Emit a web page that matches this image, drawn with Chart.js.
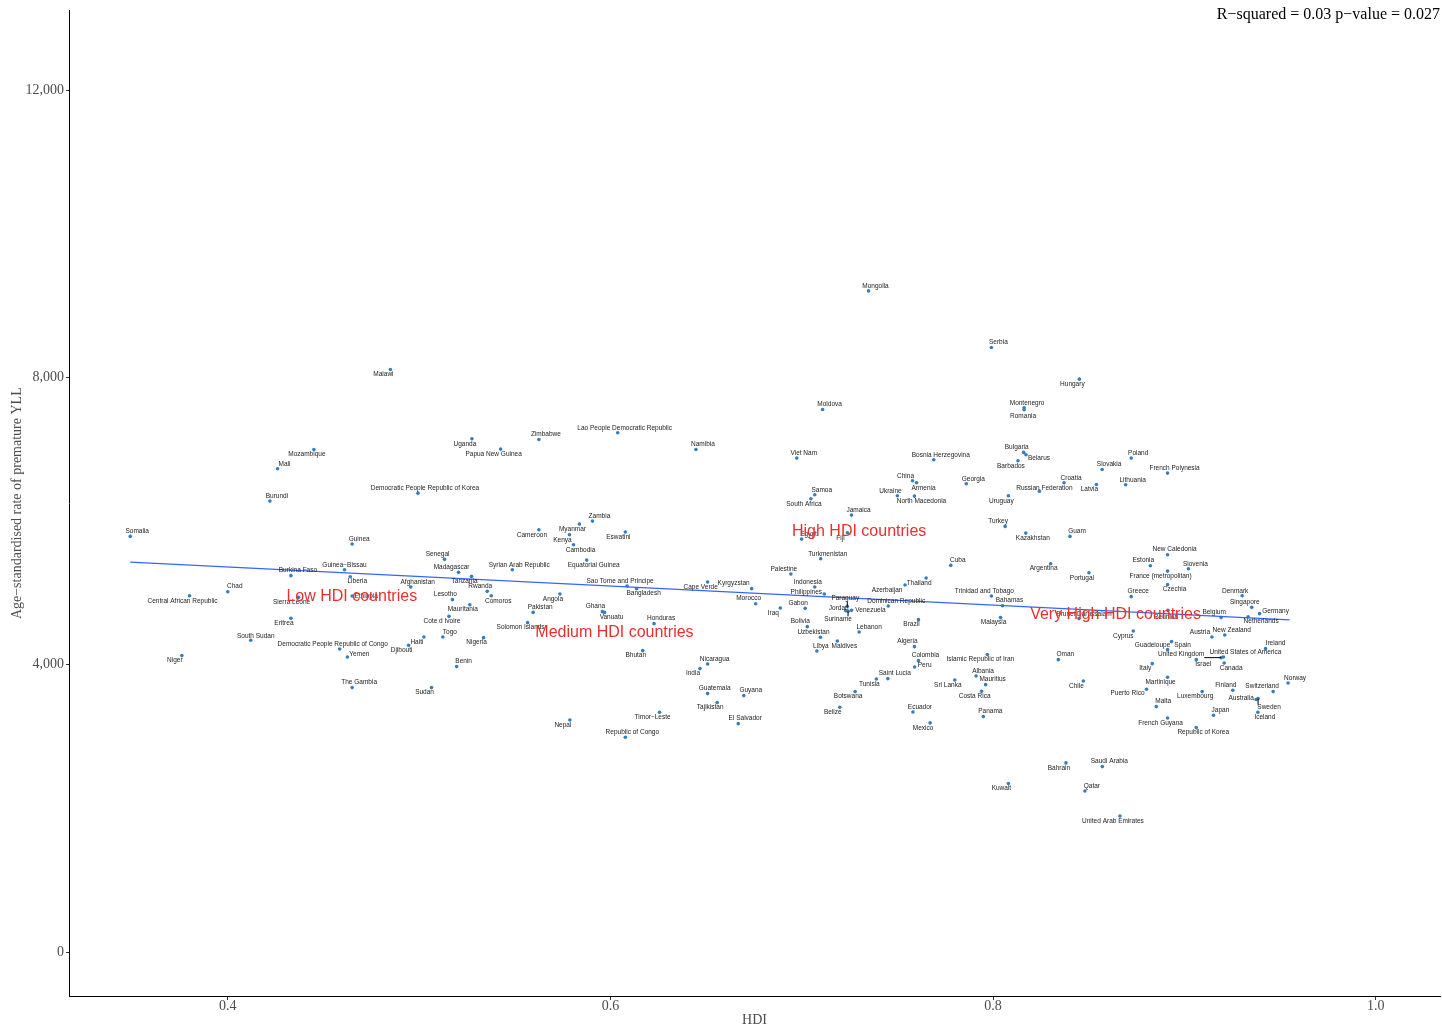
<!DOCTYPE html>
<html>
<head>
<meta charset="utf-8">
<script src="https://cdn.jsdelivr.net/npm/chart.js@4"></script>
<style>
  html, body { margin: 0; padding: 0; background: #fff; }
  #wrap { width: 1442px; height: 1029px; }
</style>
</head>
<body>
<div id="wrap"><canvas id="chart" width="1442" height="1029"></canvas></div>
<script>
// values
const countries = ['Somalia','Central African Republic','Niger','Chad','South Sudan','Burundi','Mali','Burkina Faso','Sierra Leone','Eritrea',
  'Mozambique','Guinea−Bissau','Democratic People Republic of Congo','Yemen','Guinea','Liberia','Ethiopia','The Gambia','Malawi','Djibouti',
  'Afghanistan','Democratic People Republic of Korea','Haiti','Sudan','Togo','Senegal','Cote d Ivoire','Lesotho','Benin','Madagascar',
  'Mauritania','Tanzania','Uganda','Nigeria','Rwanda','Comoros','Papua New Guinea','Syrian Arab Republic','Solomon Islands','Pakistan',
  'Cameroon','Zimbabwe','Angola','Kenya','Nepal','Cambodia','Myanmar','Equatorial Guinea','Zambia','Ghana',
  'Vanuatu','Lao People Democratic Republic','Eswatini','Republic of Congo','Sao Tome and Principe','Bangladesh','Bhutan','Honduras','Timor−Leste','Namibia',
  'India','Cape Verde','Nicaragua','Guatemala','Tajikistan','El Salvador','Guyana','Kyrgyzstan','Morocco','Iraq',
  'Palestine','Viet Nam','Egypt','Gabon','Bolivia','South Africa','Samoa','Indonesia','Libya','Uzbekistan',
  'Turkmenistan','Moldova','Philippines','Maldives','Belize','Jordan','Fiji','Paraguay','Suriname','Venezuela',
  'Jamaica','Botswana','Lebanon','Mongolia','Tunisia','Saint Lucia','Dominican Republic','Ukraine','Azerbaijan','China',
  'Ecuador','Algeria','North Macedonia','Peru','Armenia','Brazil','Colombia','Thailand','Mexico','Bosnia Herzegovina',
  'Cuba','Sri Lanka','Georgia','Albania','Costa Rica','Panama','Mauritius','Islamic Republic of Iran','Serbia','Trinidad and Tobago',
  'Malaysia','Bahamas','Turkey','Uruguay','Kuwait','Barbados','Bulgaria','Montenegro','Romania','Kazakhstan',
  'Belarus','Russian Federation','Argentina','Oman','Croatia','Bahrain','Guam','Brunei Darussalam','Hungary','Chile',
  'Qatar','Portugal','Latvia','Slovakia','Saudi Arabia','United Arab Emirates','Lithuania','Poland','Greece','Cyprus',
  'Puerto Rico','Estonia','Italy','Malta','French Polynesia','New Caledonia','France (metropolitan)','Czechia','Guadeloupe','Martinique',
  'French Guyana','Reunion','Spain','Slovenia','Israel','Republic of Korea','Luxembourg','Austria','Japan','Belgium',
  'United Kingdom','United States of America','Canada','New Zealand','Finland','Denmark','Netherlands','Singapore','Australia','Iceland',
  'Sweden','Germany','Ireland','Switzerland','Norway'];

const hdi = [0.349,0.380,0.376,0.400,0.412,0.422,0.426,0.433,0.437,0.433,
  0.445,0.461,0.4585,0.4625,0.465,0.464,0.465,0.465,0.485,0.4945,
  0.4956,0.4994,0.5025,0.5065,0.5124,0.5133,0.5156,0.5174,0.5196,0.5206,
  0.5265,0.5274,0.5276,0.5337,0.5356,0.5377,0.5426,0.5487,0.5567,0.5596,
  0.5626,0.5626,0.5736,0.5786,0.5788,0.5807,0.5838,0.5876,0.5906,0.5958,
  0.5969,0.6038,0.6078,0.6078,0.6087,0.6137,0.6169,0.6228,0.6257,0.6447,
  0.6468,0.6508,0.6508,0.6508,0.6558,0.6668,0.6697,0.6738,0.6759,0.6888,
  0.6943,0.6974,0.6999,0.7018,0.7029,0.7048,0.7068,0.7068,0.7079,0.7098,
  0.7099,0.7109,0.7118,0.7186,0.7199,0.7230,0.7239,0.7238,0.7242,0.7260,
  0.7260,0.7279,0.7300,0.7349,0.7390,0.7450,0.7452,0.7500,0.7540,0.7579,
  0.7581,0.7589,0.7589,0.7590,0.7600,0.7610,0.7610,0.7650,0.7671,0.7690,
  0.7779,0.7800,0.7860,0.7911,0.7940,0.7949,0.7961,0.7970,0.7991,0.7991,
  0.8039,0.8049,0.8063,0.8080,0.8080,0.8130,0.8160,0.8162,0.8162,0.8171,
  0.8172,0.8242,0.8301,0.8341,0.8371,0.8381,0.8402,0.8449,0.8451,0.8472,
  0.8480,0.8501,0.8540,0.8570,0.8571,0.8663,0.8693,0.8722,0.8722,0.8733,
  0.8802,0.8822,0.8832,0.8853,0.8912,0.8912,0.8912,0.8912,0.8912,0.8912,
  0.8912,0.8914,0.8933,0.9021,0.9062,0.9062,0.9093,0.9144,0.9152,0.9192,
  0.9192,0.9204,0.9208,0.9211,0.9253,0.9302,0.9333,0.9352,0.9375,0.9384,
  0.9385,0.9393,0.9424,0.9464,0.9542];

const yll = [5788,4962,4128,5018,4341,6279,6730,5241,4939,4647,
  6998,5324,4220,4109,5681,5227,4958,3683,8111,4271,
  5083,6390,4387,3683,4387,5468,4675,4907,3975,5287,
  4837,5231,7147,4378,5023,4962,7003,5324,4587,4730,
  5881,7137,4985,5811,3232,5672,5959,5458,6001,4740,
  4730,7230,5848,2991,5097,5060,4197,4573,3339,6998,
  3947,5152,4011,3599,3474,3181,3571,5060,4851,4790,
  5264,6878,5750,4786,4531,6312,6368,5083,4192,4383,
  5477,7555,4985,4331,3409,4754,5839,4814,4744,4758,
  6084,3627,4457,9206,3803,3808,4818,6354,5111,6562,
  3344,4253,6349,3970,6535,4629,4058,5208,3191,6855,
  5384,3789,6521,3845,3631,3279,3724,4142,8417,4958,
  4657,4823,5927,6354,2347,6841,6957,7578,7551,5834,
  6924,6418,5408,4072,6535,2634,5788,4643,7977,3775,
  2244,5282,6511,6720,2583,1896,6507,6878,4949,4470,
  3659,5380,4016,3418,6669,5533,5305,5116,4211,3826,
  3260,4758,4323,5338,4072,3126,3627,4387,3297,4657,
  4100,4108,4025,4415,3645,4962,4670,4800,3516,3339,
  3530,4712,4225,3627,3747];

const xTicks = [0.4, 0.6, 0.8, 1.0];
const yTicks = [0, 4000, 8000, 12000];

// linear fit line as drawn
const fitX = [0.349, 0.955];
const fitY = [5431, 4625];

// group annotations
const groupNames = ['Low HDI countries', 'Medium HDI countries', 'High HDI countries', 'Very High HDI countries'];
const groupX = [0.4648, 0.6021, 0.7300, 0.8640];
const groupY = [4953, 4452, 5857, 4703];

const statText = 'R−squared = 0.03 p−value = 0.027';

// label placement (like ggrepel): default up-right
const sides = {
  ne: [7, -5], nw: [-7, -5], se: [7, 5], sw: [-7, 5]
};
const labelSide = {
  'Central African Republic':'sw','Niger':'sw','Sierra Leone':'sw','Eritrea':'sw','Mozambique':'sw','Malawi':'sw','Djibouti':'sw',
  'Haiti':'sw','Sudan':'sw','Cote d Ivoire':'sw','Mauritania':'sw','Tanzania':'sw','Uganda':'sw','Nigeria':'sw','Papua New Guinea':'sw',
  'Solomon Islands':'sw','Cameroon':'sw','Angola':'sw','Kenya':'sw','Nepal':'sw','Myanmar':'sw','Eswatini':'sw','Bhutan':'sw',
  'Timor−Leste':'sw','India':'sw','Cape Verde':'sw','Tajikistan':'sw','Iraq':'sw','South Africa':'sw','Belize':'sw','Fiji':'sw',
  'Botswana':'sw','Tunisia':'sw','Brazil':'sw','Thailand':'sw','Mexico':'sw','Sri Lanka':'sw','Costa Rica':'sw',
  'Islamic Republic of Iran':'sw','Malaysia':'sw','Uruguay':'sw','Kuwait':'sw','Barbados':'sw','Argentina':'sw','Bahrain':'sw',
  'Hungary':'sw','Chile':'sw','Portugal':'sw','Latvia':'sw','United Arab Emirates':'sw','Italy':'sw','Martinique':'sw',
  'French Guyana':'sw','France (metropolitan)':'sw','Luxembourg':'sw',
  'Democratic People Republic of Congo':'nw','Senegal':'nw','Lesotho':'nw','Madagascar':'nw','Rwanda':'nw','Ghana':'nw',
  'Sao Tome and Principe':'nw','Morocco':'nw','Palestine':'nw','Gabon':'nw','Bolivia':'nw','Indonesia':'nw','Uzbekistan':'nw',
  'Ukraine':'nw','China':'nw','Algeria':'nw','Trinidad and Tobago':'nw','Turkey':'nw','Bulgaria':'nw','Estonia':'nw',
  'Belgium':'nw','Finland':'nw','Denmark':'nw','Singapore':'nw',
  'Liberia':'se','Comoros':'se','Cambodia':'se','Equatorial Guinea':'se','Vanuatu':'se','Bangladesh':'se','Maldives':'se',
  'North Macedonia':'se','Armenia':'se','Kazakhstan':'se','Czechia':'se','Israel':'se','Republic of Korea':'se','Canada':'se','Iceland':'se',
  'Guinea−Bissau':[0,-5],'Yemen':[12,-3],'Ethiopia':[14,0],'Kyrgyzstan':[-18,-5],'Philippines':[-18,-2],'Jordan':[-7,-2],
  'Paraguay':[-2,-8],'Suriname':[-10,8],'Venezuela':[19,0],'Lebanon':[10,-5],'Azerbaijan':[-18,5],'Peru':[10,-2],
  'Montenegro':[3,-5],'Romania':[-1,6],'Belarus':[13,3],'Russian Federation':[5,-3],'Brunei Darussalam':[5,-4],
  'Cyprus':[-10,5],'Puerto Rico':[-19,4],'Guadeloupe':[-15,-4],'Reunion':[-2,7],'Spain':[11,4],'Austria':[-12,-5],
  'United Kingdom':[-40,-3],'United States of America':[22,-5],'Netherlands':[13,5],'Australia':[-15,-1],'Sweden':[11,9],
  'Germany':[16,-2],'Ireland':[10,-5],'Switzerland':[-11,-5],'Libya':[4,-5],'South Sudan':[5,-4],'Dominican Republic':[8,-5]
};
const withSegment = ['Paraguay', 'Suriname', 'United Kingdom', 'Sweden'];

const SERIF = '"Liberation Serif", "Times New Roman", serif';
const SANS = '"Liberation Sans", Arial, sans-serif';

const labelOffset = name => {
  const s = labelSide[name] || 'ne';
  return Array.isArray(s) ? s : sides[s];
};

const labelsPlugin = {
  id: 'countryLabels',
  afterDatasetsDraw(chart) {
    const { ctx, scales: { x, y } } = chart;
    ctx.save();
    ctx.font = '6.5px ' + SANS;
    ctx.textAlign = 'center';
    ctx.textBaseline = 'middle';
    countries.forEach((name, i) => {
      const px = x.getPixelForValue(hdi[i]);
      const py = y.getPixelForValue(yll[i]);
      const [dx, dy] = labelOffset(name);
      const cx = px + dx, cy = py + dy;
      if (withSegment.includes(name)) {
        const w = ctx.measureText(name).width / 2;
        const ex = Math.min(Math.max(px, cx - w), cx + w);
        const ey = Math.min(Math.max(py, cy - 3), cy + 3);
        ctx.strokeStyle = '#000';
        ctx.lineWidth = 1;
        ctx.beginPath();
        ctx.moveTo(ex, ey);
        ctx.lineTo(px, py);
        ctx.stroke();
      }
      ctx.fillStyle = '#222';
      ctx.fillText(name, cx, cy);
    });

    ctx.font = '16px ' + SANS;
    ctx.fillStyle = '#e8302c';
    groupNames.forEach((g, i) => {
      ctx.fillText(g, x.getPixelForValue(groupX[i]), y.getPixelForValue(groupY[i]));
    });

    ctx.font = '16px ' + SERIF;
    ctx.fillStyle = '#000';
    ctx.textAlign = 'right';
    ctx.fillText(statText, chart.width - 2, 15);
    ctx.restore();
  }
};

new Chart(document.getElementById('chart'), {
  type: 'scatter',
  data: {
    datasets: [
      {
        label: 'fit',
        type: 'line',
        data: fitX.map((v, i) => ({ x: v, y: fitY[i] })),
        borderColor: '#3366ff',
        borderWidth: 1.3,
        pointRadius: 0,
        fill: false
      },
      {
        label: 'countries',
        data: hdi.map((v, i) => ({ x: v, y: yll[i] })),
        backgroundColor: '#357ebd',
        borderWidth: 0,
        pointRadius: 1.8
      }
    ]
  },
  plugins: [labelsPlugin],
  options: {
    responsive: false,
    animation: false,
    devicePixelRatio: 1,
    layout: { autoPadding: false, padding: { top: 8, right: 2, left: 0, bottom: 0 } },
    plugins: { legend: { display: false }, tooltip: { enabled: false } },
    scales: {
      x: {
        type: 'linear',
        min: 0.317,
        max: 1.0336,
        afterBuildTicks: s => { s.ticks = xTicks.map(v => ({ value: v })); },
        afterFit: s => { s.height = 33; },
        border: { color: '#000', width: 1 },
        grid: { drawOnChartArea: false, tickLength: 4, color: '#333' },
        ticks: {
          font: { family: SERIF, size: 14 },
          color: '#4d4d4d',
          padding: -2,
          callback: v => v.toFixed(1)
        },
        title: {
          display: true,
          text: 'HDI',
          font: { family: SERIF, size: 14 },
          color: '#4d4d4d',
          padding: { top: 0, bottom: 0 }
        }
      },
      y: {
        min: -611,
        max: 13111,
        afterBuildTicks: s => { s.ticks = yTicks.map(v => ({ value: v })); },
        afterFit: s => { s.width = 69; },
        border: { color: '#000', width: 1 },
        grid: { drawOnChartArea: false, tickLength: 3, color: '#333' },
        ticks: {
          font: { family: SERIF, size: 14 },
          color: '#4d4d4d',
          padding: 2,
          callback: v => v.toLocaleString('en-US')
        },
        title: {
          display: true,
          text: 'Age−standardised rate of premature YLL',
          font: { family: SERIF, size: 14 },
          color: '#4d4d4d',
          padding: { top: 9, bottom: 0 }
        }
      }
    }
  }
});
</script>
</body>
</html>
